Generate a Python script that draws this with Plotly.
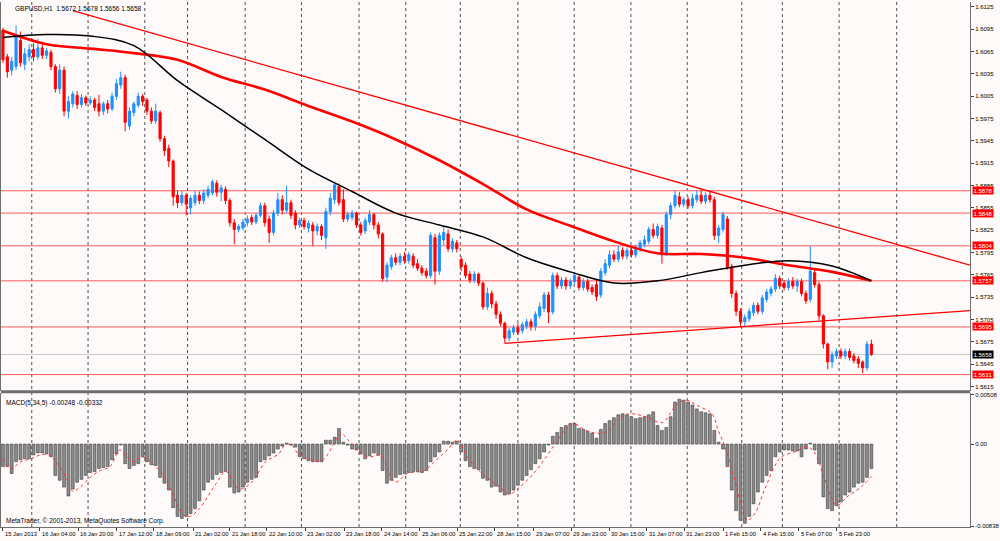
#importing
import plotly.graph_objects as go

#GBPUSD H1 bars (one list per field)
opens = [1.6094, 1.6058, 1.6040, 1.6045, 1.6080, 1.6048, 1.6058, 1.6068, 1.6058, 1.6070,
         1.6060, 1.6064, 1.6045, 1.6015, 1.6040, 1.5985, 1.5995, 1.6006, 1.5994, 1.6003,
         1.5996, 1.6000, 1.5995, 1.5985, 1.5995, 1.5988, 1.6005, 1.6020, 1.6030, 1.5965,
         1.5983, 1.5993, 1.6005, 1.6000, 1.5985, 1.5972, 1.5983, 1.5948, 1.5935, 1.5918,
         1.5872, 1.5862, 1.5872, 1.5855, 1.5862, 1.5872, 1.5865, 1.5872, 1.5875, 1.5888,
         1.5876, 1.5880, 1.5865, 1.5835, 1.5826, 1.5828, 1.5835, 1.5842, 1.5836, 1.5845,
         1.5858, 1.5840, 1.5822, 1.5848, 1.5866, 1.5852, 1.5862, 1.5848, 1.5832, 1.5838,
         1.5828, 1.5832, 1.5824, 1.5830, 1.5815, 1.5850, 1.5866, 1.5884, 1.5866, 1.5840,
         1.5842, 1.5848, 1.5832, 1.5824, 1.5836, 1.5846, 1.5832, 1.5820, 1.5762, 1.5776,
         1.5788, 1.5782, 1.5790, 1.5784, 1.5790, 1.5780, 1.5774, 1.5770, 1.5764, 1.5815,
         1.5770, 1.5812, 1.5820, 1.5800, 1.5808, 1.5786, 1.5778, 1.5766, 1.5758, 1.5766,
         1.5754, 1.5722, 1.5740, 1.5726, 1.5712, 1.5700, 1.5680, 1.5688, 1.5694, 1.5690,
         1.5696, 1.5702, 1.5696, 1.5710, 1.5720, 1.5738, 1.5715, 1.5764, 1.5750, 1.5758,
         1.5750, 1.5756, 1.5762, 1.5748, 1.5756, 1.5748, 1.5752, 1.5738, 1.5768, 1.5778,
         1.5792, 1.5786, 1.5798, 1.5790, 1.5798, 1.5792, 1.5800, 1.5806, 1.5810, 1.5826,
         1.5818, 1.5828, 1.5794, 1.5846, 1.5858, 1.5870, 1.5860, 1.5866, 1.5858, 1.5866,
         1.5872, 1.5864, 1.5872, 1.5866, 1.5818, 1.5826, 1.5840, 1.5776, 1.5740, 1.5716,
         1.5702, 1.5706, 1.5714, 1.5724, 1.5716, 1.5732, 1.5740, 1.5746, 1.5760, 1.5754,
         1.5748, 1.5756, 1.5750, 1.5756, 1.5740, 1.5732, 1.5768, 1.5752, 1.5710, 1.5672,
         1.5648, 1.5656, 1.5662, 1.5656, 1.5662, 1.5656, 1.5652, 1.5648, 1.5640, 1.5672]
highs = [1.6097, 1.6062, 1.6058, 1.6100, 1.6092, 1.6070, 1.6075, 1.6076, 1.6082, 1.6075,
         1.6070, 1.6068, 1.6048, 1.6048, 1.6045, 1.6005, 1.6012, 1.6012, 1.6008, 1.6006,
         1.6005, 1.6003, 1.6007, 1.5998, 1.6000, 1.6010, 1.6028, 1.6038, 1.6034, 1.5990,
         1.5998, 1.6010, 1.6008, 1.6003, 1.5990, 1.5995, 1.5986, 1.5952, 1.5940, 1.5920,
         1.5878, 1.5878, 1.5875, 1.5872, 1.5878, 1.5877, 1.5880, 1.5885, 1.5893, 1.5892,
         1.5886, 1.5884, 1.5868, 1.5840, 1.5833, 1.5840, 1.5845, 1.5846, 1.5848, 1.5862,
         1.5862, 1.5845, 1.5852, 1.5875, 1.5872, 1.5885, 1.5866, 1.5852, 1.5842, 1.5842,
         1.5838, 1.5836, 1.5834, 1.5833, 1.5855, 1.5875, 1.5890, 1.5888, 1.5880, 1.5850,
         1.5852, 1.5850, 1.5836, 1.5842, 1.5852, 1.5848, 1.5836, 1.5822, 1.5782, 1.5792,
         1.5794, 1.5794, 1.5796, 1.5796, 1.5794, 1.5786, 1.5778, 1.5774, 1.5822, 1.5820,
         1.5822, 1.5830, 1.5826, 1.5814, 1.5812, 1.5790, 1.5782, 1.5770, 1.5770, 1.5768,
         1.5756, 1.5748, 1.5744, 1.5730, 1.5716, 1.5702, 1.5694, 1.5698, 1.5700, 1.5702,
         1.5706, 1.5706, 1.5716, 1.5728, 1.5742, 1.5742, 1.5768, 1.5768, 1.5762, 1.5762,
         1.5760, 1.5768, 1.5766, 1.5760, 1.5760, 1.5752, 1.5758, 1.5774, 1.5786, 1.5798,
         1.5798, 1.5804, 1.5802, 1.5802, 1.5804, 1.5806, 1.5812, 1.5818, 1.5830, 1.5834,
         1.5834, 1.5832, 1.5850, 1.5862, 1.5878, 1.5876, 1.5870, 1.5870, 1.5874, 1.5878,
         1.5880, 1.5876, 1.5878, 1.5870, 1.5832, 1.5850, 1.5844, 1.5780, 1.5744, 1.5720,
         1.5712, 1.5720, 1.5728, 1.5728, 1.5738, 1.5746, 1.5750, 1.5766, 1.5764, 1.5758,
         1.5760, 1.5762, 1.5760, 1.5760, 1.5744, 1.5804, 1.5772, 1.5756, 1.5712, 1.5674,
         1.5662, 1.5666, 1.5666, 1.5666, 1.5666, 1.5660, 1.5656, 1.5650, 1.5676, 1.5678]
lows = [1.6050, 1.6030, 1.6033, 1.6040, 1.6045, 1.6040, 1.6052, 1.6052, 1.6054, 1.6055,
        1.6055, 1.6040, 1.6010, 1.6008, 1.5978, 1.5975, 1.5990, 1.5988, 1.5990, 1.5992,
        1.5993, 1.5985, 1.5978, 1.5980, 1.5982, 1.5985, 1.6000, 1.6015, 1.5958, 1.5960,
        1.5978, 1.5990, 1.5992, 1.5980, 1.5968, 1.5968, 1.5944, 1.5925, 1.5910, 1.5858,
        1.5855, 1.5858, 1.5845, 1.5846, 1.5858, 1.5860, 1.5860, 1.5868, 1.5872, 1.5870,
        1.5864, 1.5860, 1.5830, 1.5806, 1.5822, 1.5825, 1.5830, 1.5832, 1.5833, 1.5842,
        1.5830, 1.5808, 1.5818, 1.5844, 1.5846, 1.5848, 1.5840, 1.5826, 1.5828, 1.5826,
        1.5822, 1.5804, 1.5818, 1.5812, 1.5800, 1.5845, 1.5860, 1.5858, 1.5836, 1.5836,
        1.5838, 1.5828, 1.5818, 1.5820, 1.5832, 1.5826, 1.5814, 1.5756, 1.5755, 1.5772,
        1.5778, 1.5778, 1.5780, 1.5780, 1.5774, 1.5770, 1.5764, 1.5760, 1.5760, 1.5752,
        1.5765, 1.5805, 1.5796, 1.5795, 1.5795, 1.5770, 1.5760, 1.5754, 1.5754, 1.5750,
        1.5718, 1.5718, 1.5720, 1.5706, 1.5696, 1.5673, 1.5676, 1.5684, 1.5684, 1.5686,
        1.5692, 1.5690, 1.5690, 1.5706, 1.5715, 1.5700, 1.5712, 1.5746, 1.5746, 1.5745,
        1.5746, 1.5752, 1.5744, 1.5744, 1.5742, 1.5738, 1.5730, 1.5734, 1.5764, 1.5774,
        1.5782, 1.5782, 1.5786, 1.5786, 1.5788, 1.5788, 1.5796, 1.5802, 1.5806, 1.5814,
        1.5814, 1.5780, 1.5790, 1.5840, 1.5854, 1.5856, 1.5856, 1.5854, 1.5854, 1.5862,
        1.5860, 1.5860, 1.5862, 1.5812, 1.5808, 1.5822, 1.5772, 1.5734, 1.5710, 1.5696,
        1.5696, 1.5702, 1.5710, 1.5712, 1.5712, 1.5728, 1.5736, 1.5742, 1.5746, 1.5744,
        1.5744, 1.5746, 1.5742, 1.5736, 1.5726, 1.5728, 1.5748, 1.5704, 1.5666, 1.5638,
        1.5640, 1.5652, 1.5652, 1.5652, 1.5650, 1.5646, 1.5640, 1.5633, 1.5636, 1.5656]
closes = [1.6054, 1.6038, 1.6052, 1.6088, 1.6050, 1.6062, 1.6068, 1.6058, 1.6070, 1.6060,
          1.6066, 1.6045, 1.6015, 1.6040, 1.5985, 1.5998, 1.6008, 1.5994, 1.6003, 1.5996,
          1.6000, 1.5990, 1.5985, 1.5995, 1.5988, 1.6005, 1.6022, 1.6030, 1.5970, 1.5985,
          1.5995, 1.6005, 1.5998, 1.5985, 1.5972, 1.5985, 1.5948, 1.5932, 1.5918, 1.5870,
          1.5862, 1.5872, 1.5860, 1.5868, 1.5872, 1.5865, 1.5875, 1.5880, 1.5890, 1.5876,
          1.5882, 1.5865, 1.5835, 1.5826, 1.5830, 1.5836, 1.5840, 1.5836, 1.5845, 1.5858,
          1.5835, 1.5822, 1.5848, 1.5866, 1.5852, 1.5862, 1.5845, 1.5832, 1.5838, 1.5830,
          1.5834, 1.5824, 1.5830, 1.5818, 1.5850, 1.5868, 1.5886, 1.5862, 1.5840, 1.5846,
          1.5848, 1.5832, 1.5822, 1.5838, 1.5846, 1.5832, 1.5820, 1.5760, 1.5778, 1.5788,
          1.5782, 1.5790, 1.5784, 1.5792, 1.5778, 1.5774, 1.5768, 1.5764, 1.5818, 1.5770,
          1.5818, 1.5822, 1.5800, 1.5810, 1.5800, 1.5776, 1.5764, 1.5758, 1.5766, 1.5754,
          1.5722, 1.5740, 1.5726, 1.5712, 1.5700, 1.5680, 1.5690, 1.5694, 1.5688, 1.5698,
          1.5702, 1.5696, 1.5712, 1.5722, 1.5738, 1.5715, 1.5764, 1.5750, 1.5758, 1.5750,
          1.5756, 1.5764, 1.5748, 1.5756, 1.5746, 1.5742, 1.5736, 1.5770, 1.5780, 1.5792,
          1.5786, 1.5796, 1.5790, 1.5798, 1.5792, 1.5802, 1.5808, 1.5812, 1.5826, 1.5818,
          1.5830, 1.5792, 1.5846, 1.5858, 1.5872, 1.5860, 1.5866, 1.5858, 1.5868, 1.5872,
          1.5864, 1.5872, 1.5866, 1.5818, 1.5828, 1.5846, 1.5776, 1.5740, 1.5716, 1.5702,
          1.5708, 1.5716, 1.5724, 1.5716, 1.5734, 1.5742, 1.5746, 1.5760, 1.5750, 1.5748,
          1.5756, 1.5750, 1.5756, 1.5740, 1.5730, 1.5770, 1.5752, 1.5710, 1.5672, 1.5648,
          1.5658, 1.5662, 1.5656, 1.5662, 1.5654, 1.5650, 1.5646, 1.5640, 1.5672, 1.5658]
bars = list(range(len(closes)))

#Moving averages, sampled every 10 bars
maBars = [0, 10, 20, 30, 40, 50, 60, 70, 80, 90, 100, 110, 120, 130, 140, 150, 160, 170, 180, 190, 199]
maRed = [1.6093, 1.6075, 1.6069, 1.6063, 1.6054, 1.6031, 1.6014, 1.5992, 1.5971, 1.5947, 1.5919,
         1.5887, 1.5853, 1.5831, 1.5810, 1.5794, 1.5793, 1.5788, 1.5778, 1.5769, 1.5757]
maBlack = [1.6084, 1.6088, 1.6086, 1.6073, 1.6026, 1.5987, 1.5947, 1.5907, 1.5877, 1.5848, 1.5832,
           1.5816, 1.5788, 1.5769, 1.5754, 1.5757, 1.5768, 1.5778, 1.5784, 1.5777, 1.5757]

#Trend lines (two anchor points each)
upperTrendBars = [16, 221.6]
upperTrendPrices = [1.6120, 1.5778]
lowerTrendBars = [115, 221.6]
lowerTrendPrices = [1.5673, 1.5717]

#Horizontal levels and current price
levels = [1.5878, 1.5848, 1.5804, 1.5757, 1.5695, 1.5631]
lastPrice = 1.5658

#MACD(5,34,5)
macdHist = [-0.0023, -0.0023, -0.0030, -0.0018, -0.0016, -0.0015, -0.0015, -0.0011, -0.0009, -0.0009,
            -0.0010, -0.0013, -0.0032, -0.0037, -0.0044, -0.0053, -0.0046, -0.0039, -0.0036, -0.0032,
            -0.0029, -0.0028, -0.0025, -0.0024, -0.0023, -0.0016, -0.0010, -0.0001, -0.0020, -0.0025,
            -0.0022, -0.0020, -0.0013, -0.0018, -0.0021, -0.0022, -0.0034, -0.0040, -0.0047, -0.0065,
            -0.0074, -0.0076, -0.0074, -0.0071, -0.0066, -0.0058, -0.0047, -0.0039, -0.0036, -0.0031,
            -0.0029, -0.0028, -0.0044, -0.0050, -0.0049, -0.0044, -0.0039, -0.0036, -0.0034, -0.0018,
            -0.0016, -0.0012, -0.0009, -0.0005, -0.0002, 0.0001, -0.0001, -0.0003, -0.0013, -0.0015,
            -0.0017, -0.0018, -0.0018, -0.0018, 0.0004, 0.0004, 0.0007, 0.0016, 0.0002, -0.0001,
            -0.0005, -0.0006, -0.0010, -0.0015, -0.0012, -0.0009, -0.0011, -0.0027, -0.0040, -0.0037,
            -0.0034, -0.0031, -0.0030, -0.0029, -0.0028, -0.0028, -0.0029, -0.0027, -0.0018, -0.0013,
            -0.0008, 0.0003, 0.0003, 0.0002, 0.0003, -0.0008, -0.0017, -0.0023, -0.0025, -0.0026,
            -0.0035, -0.0037, -0.0044, -0.0043, -0.0049, -0.0052, -0.0051, -0.0047, -0.0042, -0.0037,
            -0.0032, -0.0026, -0.0020, -0.0015, -0.0008, -0.0001, 0.0008, 0.0012, 0.0017, 0.0019,
            0.0021, 0.0021, 0.0016, 0.0015, 0.0013, 0.0011, 0.0006, 0.0015, 0.0021, 0.0024,
            0.0027, 0.0030, 0.0031, 0.0030, 0.0028, 0.0026, 0.0027, 0.0028, 0.0030, 0.0033,
            0.0019, 0.0014, 0.0017, 0.0028, 0.0043, 0.0046, 0.0045, 0.0043, 0.0040, 0.0036,
            0.0033, 0.0032, 0.0031, 0.0014, 0.0002, -0.0005, -0.0023, -0.0047, -0.0068, -0.0078,
            -0.0081, -0.0074, -0.0061, -0.0049, -0.0039, -0.0032, -0.0027, -0.0013, -0.0008, -0.0006,
            -0.0006, -0.0007, -0.0007, -0.0013, -0.0005, 0.0001, -0.0006, -0.0020, -0.0054, -0.0066,
            -0.0068, -0.0063, -0.0059, -0.0052, -0.0049, -0.0044, -0.0040, -0.0039, -0.0034, -0.0025]
signalBars = [0, 1.8, 4.1, 6.4, 8.6, 10.5, 12.5, 14.8, 15.9, 17.7, 20, 22.3, 24.5, 26.8, 28.4, 29.8,
              32, 34.3, 36.6, 38.9, 41.1, 42.7, 45, 48.9, 51.1, 54.1, 57, 60.2, 63.2, 64.8, 66.1,
              67.7, 70, 73, 74.5, 77.5, 79.1, 81.4, 83.6, 86.6, 89.8, 92.7, 96.6, 98.9, 101.8, 104.1,
              106.4, 108.6, 110.9, 113.9, 116.1, 118.4, 121.6, 124.5, 126.8, 129.1, 130.7, 133.6,
              136.6, 138.9, 141.1, 143.4, 147.3, 151.1, 154.1, 156.4, 159.3, 162.5, 163.9, 165.5,
              167.7, 169.3, 170.5, 172.3, 174.5, 176.8, 178.4, 181.4, 184.3, 185.9, 188.2, 189.8,
              191.1, 193.4, 196.6, 199]
signalValues = [-0.0015, -0.0025, -0.0018, -0.0015, -0.0011, -0.0011, -0.0020, -0.0037, -0.0048, -0.0044,
                -0.0034, -0.0027, -0.0023, -0.0006, -0.0013, -0.0018, -0.0013, -0.0020, -0.0031, -0.0051,
                -0.0071, -0.0074, -0.0066, -0.0040, -0.0028, -0.0046, -0.0039, -0.0018, -0.0010, 0.0000,
                -0.0001, -0.0010, -0.0015, -0.0017, -0.0010, 0.0011, 0.0004, -0.0006, -0.0013, -0.0012,
                -0.0039, -0.0030, -0.0027, -0.0018, -0.0006, 0.0004, -0.0013, -0.0025, -0.0034, -0.0044,
                -0.0051, -0.0044, -0.0030, -0.0013, 0.0002, 0.0016, 0.0021, 0.0014, 0.0011, 0.0014,
                0.0026, 0.0031, 0.0028, 0.0022, 0.0039, 0.0045, 0.0039, 0.0031, 0.0014, -0.0003,
                -0.0037, -0.0065, -0.0078, -0.0071, -0.0047, -0.0023, -0.0013, -0.0008, -0.0003, -0.0008,
                -0.0034, -0.0054, -0.0063, -0.0054, -0.0044, -0.0033]

#Axis texts
priceTicks = [1.6125, 1.6095, 1.6065, 1.6035, 1.6005, 1.5975, 1.5945, 1.5915, 1.5885, 1.5855,
              1.5825, 1.5795, 1.5765, 1.5735, 1.5705, 1.5675, 1.5645, 1.5615]
macdTicks = [0.00508, 0.0, -0.00838]
macdTickText = ["0.00508", "0.00", "-0.00838"]
timeLabelBars = [0, 8.4, 17.3, 26.1, 34.5, 43.6, 52, 60.5, 69.3, 78.2, 86.8, 95.5,
                 104.1, 112.7, 121.6, 130.2, 138.9, 147.5, 156.1, 165, 173.6, 182.3, 191.1]
timeLabels = ["15 Jan 2013", "16 Jan 04:00", "16 Jan 20:00", "17 Jan 12:00", "18 Jan 09:00",
              "21 Jan 02:00", "21 Jan 18:00", "22 Jan 10:00", "23 Jan 02:00", "23 Jan 18:00",
              "24 Jan 14:00", "25 Jan 06:00", "25 Jan 22:00", "28 Jan 15:00", "29 Jan 07:00",
              "29 Jan 23:00", "30 Jan 15:00", "31 Jan 07:00", "31 Jan 23:00", "1 Feb 15:00",
              "4 Feb 15:00", "5 Feb 07:00", "5 Feb 23:00"]
dayBreaks = [6.6, 19.5, 32.5, 42.3, 55.5, 68.4, 81.6, 92.3, 104.8, 118, 130.9, 143.9,
             156.8, 169.3, 178.6, 191.6, 204.8]

bg = "#FFFAFA"
font = "Liberation Sans"
xRange = [-0.45, 221.6]

figure = go.Figure()

#Candles
figure.add_trace(go.Candlestick(x = bars, open = opens, high = highs, low = lows, close = closes,
                                increasing = dict(line = dict(color = "#1E90FF", width = 1), fillcolor = "#1E90FF"),
                                decreasing = dict(line = dict(color = "#FF0000", width = 1), fillcolor = "#FF0000"),
                                whiskerwidth = 0, showlegend = False, hoverinfo = "skip"))

#Moving averages
figure.add_trace(go.Scatter(x = maBars, y = maRed, mode = "lines", line = dict(color = "#FF0000", width = 2.6, shape = "spline"), showlegend = False))
figure.add_trace(go.Scatter(x = maBars, y = maBlack, mode = "lines", line = dict(color = "#000000", width = 1.5, shape = "spline"), showlegend = False))

#Trend lines
figure.add_trace(go.Scatter(x = upperTrendBars, y = upperTrendPrices, mode = "lines", line = dict(color = "#FF0000", width = 1.3), showlegend = False))
figure.add_trace(go.Scatter(x = lowerTrendBars, y = lowerTrendPrices, mode = "lines", line = dict(color = "#FF0000", width = 1.3), showlegend = False))

#MACD panel
figure.add_trace(go.Bar(x = bars, y = macdHist, xaxis = "x2", yaxis = "y2",
                        marker = dict(color = "#8C8C8C", line = dict(color = "#3A3A3A", width = 0.6)),
                        showlegend = False))
figure.add_trace(go.Scatter(x = signalBars, y = signalValues, xaxis = "x2", yaxis = "y2", mode = "lines",
                            line = dict(color = "#FF3030", width = 1, dash = "dot", shape = "spline"), showlegend = False))

#Horizontal levels
shapes = []
for level in levels:
    shapes.append(dict(type = "line", xref = "x", yref = "y", x0 = xRange[0], x1 = xRange[1], y0 = level, y1 = level,
                       line = dict(color = "#FF5A5A", width = 1), layer = "below"))
shapes.append(dict(type = "line", xref = "x", yref = "y", x0 = xRange[0], x1 = xRange[1], y0 = lastPrice, y1 = lastPrice,
                   line = dict(color = "#C8C8C8", width = 1), layer = "below"))

#Day separators
for d in dayBreaks:
    shapes.append(dict(type = "line", xref = "x", yref = "paper", x0 = d, x1 = d, y0 = 0, y1 = 1,
                       line = dict(color = "#505050", width = 1, dash = "dot"), layer = "below"))

#Panel separator
shapes.append(dict(type = "line", xref = "paper", yref = "paper", x0 = 0, x1 = 1, y0 = 0.2575, y1 = 0.2575,
                   line = dict(color = "#6E6E6E", width = 3)))

annotations = []
annotations.append(dict(xref = "paper", yref = "paper", x = 0.012, y = 1, xanchor = "left", yanchor = "top", yshift = -1,
                        text = "GBPUSD,H1  1.5672 1.5678 1.5656 1.5658", showarrow = False,
                        font = dict(family = font, size = 6.5, color = "#000000")))
annotations.append(dict(xref = "paper", yref = "paper", x = 0.003, y = 0.2475, xanchor = "left", yanchor = "top",
                        text = "MACD(5,34,5) -0.00248 -0.00332", showarrow = False,
                        font = dict(family = font, size = 6.5, color = "#000000")))
annotations.append(dict(xref = "paper", yref = "paper", x = 0.003, y = 0.0, xanchor = "left", yanchor = "bottom",
                        text = "MetaTrader, © 2001-2013, MetaQuotes Software Corp.", showarrow = False,
                        font = dict(family = font, size = 6.5, color = "#000000")))

#Price labels on the right axis
for level in levels:
    annotations.append(dict(xref = "paper", yref = "y", x = 1.002, y = level, xanchor = "left", yanchor = "middle",
                            text = "%.4f" % level, showarrow = False, bgcolor = "#FF0000", borderpad = 0.5,
                            font = dict(family = font, size = 6, color = "#FFFFFF")))
annotations.append(dict(xref = "paper", yref = "y", x = 1.002, y = lastPrice, xanchor = "left", yanchor = "middle",
                        text = "%.4f" % lastPrice, showarrow = False, bgcolor = "#000000", borderpad = 0.5,
                        font = dict(family = font, size = 6, color = "#FFFFFF")))

#Time labels
for b, t in zip(timeLabelBars, timeLabels):
    annotations.append(dict(xref = "x2", yref = "paper", x = b, y = 0, xanchor = "left", yanchor = "top", yshift = -2,
                            text = t, showarrow = False, font = dict(family = font, size = 5.8, color = "#000000")))

figure.update_layout(
    width = 1000, height = 541,
    margin = dict(l = 0, r = 23, t = 0, b = 14),
    paper_bgcolor = bg, plot_bgcolor = bg,
    bargap = 0.35,
    showlegend = False,
    shapes = shapes,
    annotations = annotations,
    xaxis = dict(domain = [0, 1], range = xRange, anchor = "y", showticklabels = False, showgrid = False,
                 zeroline = False, rangeslider = dict(visible = False), showline = False),
    xaxis2 = dict(domain = [0, 1], range = xRange, anchor = "y2", showgrid = False, zeroline = False,
                  tickvals = timeLabelBars, ticktext = [""] * len(timeLabelBars), ticks = "outside", ticklen = 3,
                  tickcolor = "#404040", showline = True, linecolor = "#6E6E6E", linewidth = 1),
    yaxis = dict(domain = [0.26, 1], range = [1.56096, 1.61317], side = "right", tickvals = priceTicks,
                 ticktext = ["%.4f" % p for p in priceTicks], ticks = "outside", ticklen = 3, tickcolor = "#404040",
                 tickfont = dict(family = font, size = 6, color = "#000000"), showgrid = False, zeroline = False,
                 showline = True, linecolor = "#6E6E6E", linewidth = 1, mirror = True),
    yaxis2 = dict(domain = [0, 0.2543], range = [-0.00848, 0.00518], side = "right", tickvals = macdTicks,
                  ticktext = macdTickText, ticks = "outside", ticklen = 3, tickcolor = "#404040",
                  tickfont = dict(family = font, size = 6, color = "#000000"), showgrid = False, zeroline = False,
                  showline = True, linecolor = "#6E6E6E", linewidth = 1, mirror = True),
)

#page has a default body margin, drop it so the chart fills the window
figure.write_html("out.html", config = {"displayModeBar": False},
                  post_script = "document.body.style.margin = '0'; document.body.style.background = '" + bg + "';")
